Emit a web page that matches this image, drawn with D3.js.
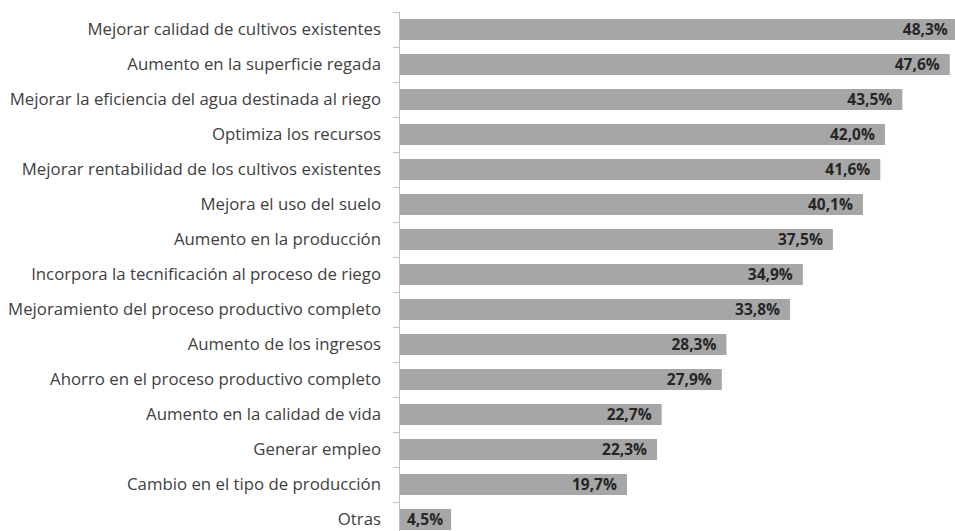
<!DOCTYPE html>
<html><head><meta charset="utf-8">
<script src="https://cdn.jsdelivr.net/npm/d3@7/dist/d3.min.js"></script>
<style>body{margin:0;background:#fff;}svg{display:block;}</style>
</head><body>
<svg id="c" width="955" height="531"></svg>
<script>
const categories = [
  "Mejorar calidad de cultivos existentes",
  "Aumento en la superficie regada",
  "Mejorar la eficiencia del agua destinada al riego",
  "Optimiza los recursos ",
  "Mejorar rentabilidad de los cultivos existentes",
  "Mejora el uso del suelo",
  "Aumento en la producción",
  "Incorpora la tecnificación al proceso de riego",
  "Mejoramiento del proceso productivo completo",
  "Aumento de los ingresos",
  "Ahorro en el proceso productivo completo ",
  "Aumento en la calidad de vida",
  "Generar empleo",
  "Cambio en el tipo de producción",
  "Otras"
];
const values = [48.3, 47.6, 43.5, 42.0, 41.6, 40.1, 37.5, 34.9, 33.8, 28.3, 27.9, 22.7, 22.3, 19.7, 4.5];
const valueLabels = ["48,3%","47,6%","43,5%","42,0%","41,6%","40,1%","37,5%","34,9%","33,8%","28,3%","27,9%","22,7%","22,3%","19,7%","4,5%"];

const svg = d3.select("#c");
const x0 = 399;
const x = d3.scaleLinear().domain([0, 50]).range([x0, x0 + 578.5]);
const y = d3.scaleBand().domain(categories).range([12, 537]).paddingInner(0.4).paddingOuter(0.2);

// bars
svg.append("g").selectAll("rect").data(categories).join("rect")
  .attr("x", x(0))
  .attr("y", d => y(d))
  .attr("width", (d, i) => x(values[i]) - x(0))
  .attr("height", y.bandwidth())
  .attr("fill", "#a6a6a6");

// axis
const axis = d3.axisLeft(y).tickSize(0).tickPadding(18);
const g = svg.append("g").attr("transform", `translate(${x0},0)`).call(axis);
g.select(".domain").attr("stroke", "#bfbfbf").attr("d", "M0.5,12V537");
g.selectAll(".tick text")
  .attr("font-family", "'Open Sans', sans-serif")
  .attr("font-size", "16.8px")
  .attr("dy", "0.34em")
  .attr("fill", "#404040");
// category boundary tick marks
svg.append("g").selectAll("line").data(d3.range(categories.length + 1)).join("line")
  .attr("x1", x0 - 6).attr("x2", x0 + 0.5)
  .attr("y1", i => 12 + i * (525 / categories.length) + 0.5)
  .attr("y2", i => 12 + i * (525 / categories.length) + 0.5)
  .attr("stroke", "#bfbfbf");

// value labels
svg.append("g").selectAll("text").data(categories).join("text")
  .attr("y", d => y(d) + y.bandwidth() / 2)
  .attr("dy", "0.36em")
  .attr("text-anchor", "end")
  .attr("font-family", "'Open Sans', sans-serif")
  .attr("font-weight", "bold")
  .attr("font-size", "15.5px")
  .attr("fill", "#262626")
  .text((d, i) => valueLabels[i])
  .attr("x", function (d, i) {
    const w = this.getComputedTextLength();
    return Math.max(x(values[i]) - 10, x0 + 8 + w);
  });
</script>
</body></html>
